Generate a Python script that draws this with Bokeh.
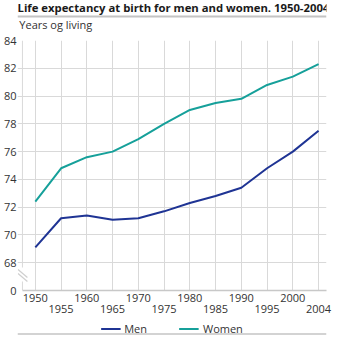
from bokeh.plotting import figure
from bokeh.layouts import column
from bokeh.models import Range1d, FixedTicker, LinearAxis, Legend, LegendItem, Grid
from bokeh.core.properties import value
from bokeh.embed import file_html
from bokeh.resources import INLINE

# ---- data ----
years = ["1950", "1955", "1960", "1965", "1970", "1975", "1980", "1985", "1990", "1995", "2000", "2004"]
men = [69.1, 71.2, 71.4, 71.1, 71.2, 71.7, 72.3, 72.8, 73.4, 74.8, 76.0, 77.5]
women = [72.4, 74.8, 75.6, 76.0, 76.9, 78.0, 79.0, 79.5, 79.8, 80.8, 81.4, 82.3]
y_ticks = [66, 68, 70, 72, 74, 76, 78, 80, 82, 84]
y_tick_labels = ["0", "68", "70", "72", "74", "76", "78", "80", "82", "84"]
title_text = "Life expectancy at birth for men and women. 1950-2004"
subtitle_text = "Years og living"
series_names = ["Men", "Women"]

FONT = "Open Sans"
W = 340
TXT = "#333333"
GRID = "#d9d9d9"
LINE_GREY = "#c4c4c4"
MEN_C = "#1f3494"
WOMEN_C = "#16a09a"

# ---- header (title, rule, unit text) ----
HEAD_H = 32
head = figure(width=W, height=HEAD_H, x_range=Range1d(0, W), y_range=Range1d(HEAD_H, 0),
              x_axis_type=None, y_axis_type=None, toolbar_location=None,
              output_backend="svg", min_border=0)
head.outline_line_color = None
head.xgrid.visible = False
head.ygrid.visible = False
head.text(x=[0], y=[7], text=[title_text], text_font=value(FONT), text_font_style="bold",
          text_font_size="11.3px", text_baseline="middle", text_color="#1a1a1a")
head.segment(x0=[0], y0=[16], x1=[W], y1=[16], line_color=LINE_GREY, line_width=2)
head.text(x=[2], y=[24], text=[subtitle_text], text_font=value(FONT),
          text_font_size="11px", text_baseline="middle", text_color=TXT)

# ---- main plot ----
LEFT, RIGHT, TOP, BOTTOM = 14, 14, 8, 31
FRAME_H = 250
MAIN_H = TOP + FRAME_H + BOTTOM
STEP = 26.0                      # px between categories
X0 = -(32 - LEFT) / STEP
X1 = 11 + 8 / STEP
X_AXIS = -13 / STEP              # y-axis line position
Y0, Y1 = 66, 84
PX_Y = (Y1 - Y0) / FRAME_H

x = list(range(len(years)))
p = figure(width=W, height=MAIN_H, x_range=Range1d(X0, X1), y_range=Range1d(Y0, Y1),
           x_axis_type=None, toolbar_location=None, output_backend="svg",
           min_border_left=LEFT, min_border_right=RIGHT, min_border_top=TOP,
           min_border_bottom=BOTTOM)
p.outline_line_color = None

p.yaxis.ticker = FixedTicker(ticks=y_ticks)
p.yaxis.major_label_overrides = {t: l for t, l in zip(y_ticks, y_tick_labels)}
p.yaxis.axis_line_color = None
p.yaxis.major_tick_line_color = None
p.yaxis.major_tick_out = 0
p.yaxis.minor_tick_line_color = None
p.yaxis.minor_tick_out = 0
p.yaxis.major_label_text_font = FONT
p.yaxis.major_label_text_font_size = "11px"
p.yaxis.major_label_text_color = TXT
p.yaxis.major_label_standoff = 1
p.ygrid.ticker = FixedTicker(ticks=y_ticks[1:])
p.ygrid.grid_line_color = GRID
p.ygrid.bounds = (X_AXIS, X1)

p.add_layout(Grid(dimension=0, ticker=FixedTicker(ticks=x), grid_line_color=GRID))

even = [i for i in x if i % 2 == 0]
odd = [i for i in x if i % 2 == 1]
ax1 = LinearAxis(ticker=FixedTicker(ticks=even),
                 major_label_overrides={i: years[i] for i in even})
ax2 = LinearAxis(ticker=FixedTicker(ticks=odd),
                 major_label_overrides={i: years[i] for i in odd})
for ax in (ax1, ax2):
    ax.major_tick_line_color = None
    ax.major_tick_out = 0
    ax.major_tick_in = 0
    ax.minor_tick_line_color = None
    ax.minor_tick_out = 0
    ax.major_label_text_font = FONT
    ax.major_label_text_font_size = "11px"
    ax.major_label_text_color = TXT
ax1.axis_line_color = "#c8c8c8"
ax1.axis_line_width = 1.5
ax1.bounds = (X_AXIS, X1)
ax1.major_label_standoff = 3
ax2.axis_line_color = None
ax2.major_label_standoff = 0
p.add_layout(ax1, "below")
p.add_layout(ax2, "below")

# y-axis line with a break between 68 and 0
p.segment(x0=[X_AXIS, X_AXIS], y0=[Y1, 66 + 9 * PX_Y], x1=[X_AXIS, X_AXIS],
          y1=[66 + 23 * PX_Y, Y0], line_color=GRID, line_width=1)
p.segment(x0=[X0 + 0.5 / STEP] * 2, y0=[66 + 21 * PX_Y, 66 + 17 * PX_Y],
          x1=[X0 + 10 / STEP] * 2, y1=[66 + 13 * PX_Y, 66 + 9 * PX_Y],
          line_color="#cfcfcf", line_width=1.2)

p.line(x, men, line_color=MEN_C, line_width=2)
p.line(x, women, line_color=WOMEN_C, line_width=2)

# ---- footer (legend + rule) ----
FOOT_H = 14
foot = figure(width=W, height=FOOT_H, x_range=Range1d(0, W), y_range=Range1d(FOOT_H, 0),
              x_axis_type=None, y_axis_type=None, toolbar_location=None,
              output_backend="svg", min_border=0)
foot.outline_line_color = None
foot.xgrid.visible = False
foot.ygrid.visible = False
# legend-only renderers, kept outside the visible range
lr_men = foot.line(x=[-20, -10], y=[5, 5], line_color=MEN_C, line_width=2)
lr_women = foot.line(x=[-20, -10], y=[5, 5], line_color=WOMEN_C, line_width=2)
legend = Legend(items=[LegendItem(label=series_names[0], renderers=[lr_men]),
                       LegendItem(label=series_names[1], renderers=[lr_women])],
                orientation="horizontal", location="top_center")
legend.label_text_font = FONT
legend.label_text_font_size = "11px"
legend.label_text_color = TXT
legend.label_height = 11
legend.label_standoff = 4
legend.glyph_width = 20
legend.glyph_height = 11
legend.spacing = 32
legend.padding = 0
legend.margin = 0
legend.border_line_color = None
legend.background_fill_alpha = 0
foot.add_layout(legend, "center")
foot.segment(x0=[0], y0=[FOOT_H - 1.5], x1=[W], y1=[FOOT_H - 1.5], line_color=LINE_GREY,
             line_width=1.5)

layout = column(head, p, foot, spacing=0)
open("out.html", "w").write(file_html(layout, INLINE))
